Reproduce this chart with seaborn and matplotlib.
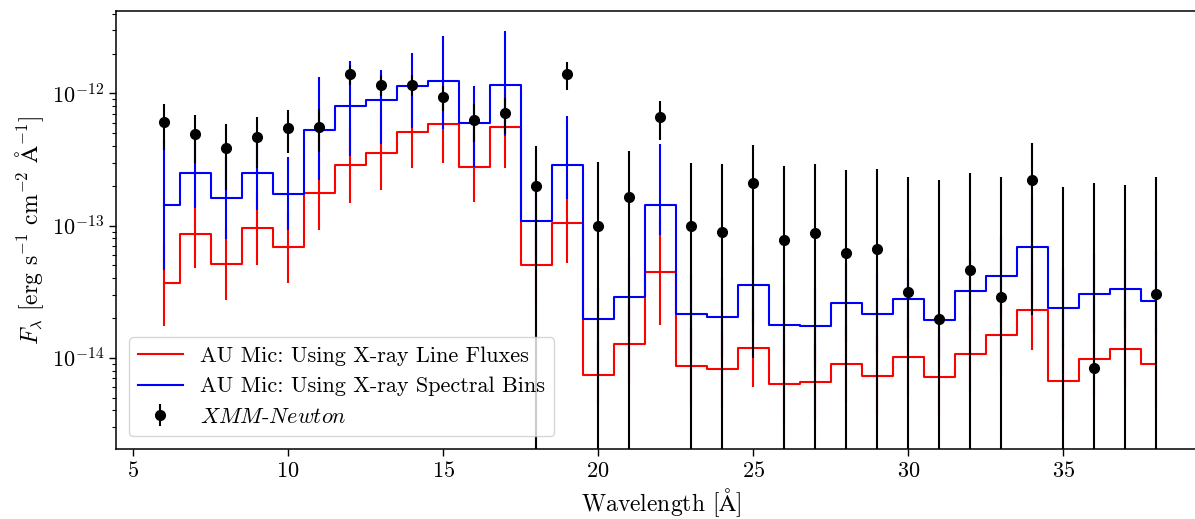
import numpy as np
import matplotlib
matplotlib.use("Agg")
import matplotlib.pyplot as plt
import seaborn as sns

# Bin centres [Angstrom]
wavelength = [6, 7, 8, 9, 10, 11, 12, 13, 14, 15, 16, 17, 18, 19, 20, 21, 22,
              23, 24, 25, 26, 27, 28, 29, 30, 31, 32, 33, 34, 35, 36, 37, 38]

# AU Mic model built from X-ray line fluxes
line_flux = [3.66e-14, 8.67e-14, 5.12e-14, 9.52e-14, 6.84e-14, 1.77e-13, 2.87e-13,
             3.52e-13, 5.07e-13, 5.83e-13, 2.79e-13, 5.59e-13, 5.02e-14, 1.04e-13,
             7.40e-15, 1.26e-14, 4.43e-14, 8.65e-15, 8.17e-15, 1.19e-14, 6.29e-15,
             6.55e-15, 8.96e-15, 7.31e-15, 1.02e-14, 7.18e-15, 1.07e-14, 1.48e-14,
             2.30e-14, 6.70e-15, 9.82e-15, 1.17e-14, 8.96e-15]
line_dex_up = [0.30, 0.26, 0.27, 0.28, 0.27, 0.27, 0.29, 0.28, 0.27, 0.29, 0.27,
               0.30, 0.29, 0.23, 0.25, 0.29, 0.40, 0.29, 0.29, 0.30, 0.29, 0.29,
               0.29, 0.29, 0.29, 0.29, 0.29, 0.29, 0.30, 0.29, 0.29, 0.29, 0.28]
line_dex_lo = [0.32, 0.26, 0.27, 0.28, 0.27, 0.28, 0.29, 0.28, 0.27, 0.29, 0.27,
               0.31, 0.29, 0.30, 0.23, 0.29, 0.40, 0.29, 0.29, 0.30, 0.29, 0.29,
               0.29, 0.29, 0.29, 0.29, 0.29, 0.29, 0.30, 0.29, 0.29, 0.29, 0.33]

# AU Mic model built from X-ray spectral bins
bin_flux = [1.43e-13, 2.48e-13, 1.61e-13, 2.48e-13, 1.72e-13, 5.27e-13, 8.01e-13,
            8.85e-13, 1.135e-12, 1.24e-12, 5.93e-13, 1.16e-12, 1.08e-13, 2.88e-13,
            1.95e-14, 2.89e-14, 1.44e-13, 2.13e-14, 2.02e-14, 3.53e-14, 1.76e-14,
            1.73e-14, 2.61e-14, 2.14e-14, 2.79e-14, 1.94e-14, 3.20e-14, 4.17e-14,
            6.91e-14, 2.36e-14, 3.05e-14, 3.31e-14, 2.67e-14]
bin_dex_up = [0.49, 0.26, 0.31, 0.28, 0.28, 0.40, 0.34, 0.23, 0.25, 0.34, 0.28,
              0.41, 0.34, 0.37, 0.24, 0.30, 0.46, 0.30, 0.30, 0.30, 0.30, 0.30,
              0.30, 0.30, 0.30, 0.30, 0.30, 0.30, 0.37, 0.30, 0.30, 0.30, 0.39]
bin_dex_lo = [0.49, 0.26, 0.31, 0.28, 0.27, 0.38, 0.38, 0.33, 0.32, 0.36, 0.33,
              0.39, 0.34, 0.26, 0.31, 0.30, 0.23, 0.30, 0.30, 0.30, 0.30, 0.30,
              0.30, 0.30, 0.30, 0.30, 0.30, 0.30, 0.40, 0.30, 0.30, 0.30, 0.24]

# XMM-Newton measurements
xmm_flux = [6.03e-13, 4.90e-13, 3.86e-13, 4.69e-13, 5.49e-13, 5.59e-13, 1.40e-12,
            1.16e-12, 1.16e-12, 9.38e-13, 6.31e-13, 7.06e-13, 1.98e-13, 1.39e-12,
            9.91e-14, 1.64e-13, 6.58e-13, 9.97e-14, 8.93e-14, 2.10e-13, 7.81e-14,
            8.73e-14, 6.23e-14, 6.64e-14, 3.12e-14, 1.95e-14, 4.61e-14, 2.88e-14,
            2.22e-13, 1.0e-15, 8.40e-15, 1.0e-15, 3.05e-14]
xmm_err = [2.27e-13, 1.95e-13, 2.00e-13, 1.96e-13, 1.98e-13, 1.98e-13, 2.40e-13,
           2.10e-13, 2.10e-13, 1.97e-13, 2.00e-13, 2.15e-13, 2.00e-13, 3.30e-13,
           2.02e-13, 2.02e-13, 2.17e-13, 2.00e-13, 2.03e-13, 2.00e-13, 2.04e-13,
           2.03e-13, 2.02e-13, 2.00e-13, 2.03e-13, 2.00e-13, 2.02e-13, 2.03e-13,
           2.01e-13, 1.96e-13, 2.03e-13, 2.00e-13, 2.02e-13]

plt.rcParams.update({
    "font.family": "serif",
    "font.serif": ["cmr10"],
    "mathtext.fontset": "cm",
    "axes.unicode_minus": False,
    "axes.formatter.use_mathtext": True,
    "font.size": 16,
    "axes.linewidth": 1.1,
})


def log_bounds(flux, dex_lo, dex_hi):
    f = np.asarray(flux)
    lo = f - f / 10 ** np.asarray(dex_lo)
    hi = f * 10 ** np.asarray(dex_hi) - f
    return [lo, hi]


fig = plt.figure(figsize=(11.95, 5.19), dpi=100)
ax = fig.add_axes([0.0971, 0.1343, 0.912, 0.8445])
ax.set_yscale("log")

# model error bars
ax.errorbar(wavelength, line_flux, yerr=log_bounds(line_flux, line_dex_lo, line_dex_up),
            fmt="none", ecolor="red", elinewidth=1.5, capsize=0, zorder=2)
ax.errorbar(wavelength, bin_flux, yerr=log_bounds(bin_flux, bin_dex_lo, bin_dex_up),
            fmt="none", ecolor="blue", elinewidth=1.5, capsize=0, zorder=2.2)

# binned model spectra as steps
sns.lineplot(x=wavelength, y=line_flux, drawstyle="steps-mid", color="red",
             linewidth=1.5, label="AU Mic: Using X-ray Line Fluxes", ax=ax, zorder=2.1)
sns.lineplot(x=wavelength, y=bin_flux, drawstyle="steps-mid", color="blue",
             linewidth=1.5, label="AU Mic: Using X-ray Spectral Bins", ax=ax, zorder=2.3)

# observed fluxes
ax.errorbar(wavelength, xmm_flux, yerr=xmm_err, fmt="o", color="black",
            markersize=7, elinewidth=1.5, capsize=0, zorder=3,
            label=r"$\mathit{XMM}$-$\mathit{Newton}$")

ax.set_xlim(4.45, 39.6)
ax.set_ylim(2.03e-15, 4.2e-12)
ax.set_xticks([5, 10, 15, 20, 25, 30, 35])
ax.tick_params(axis="both", which="major", direction="out", length=5, width=1.0,
               labelsize=16)
ax.tick_params(axis="y", which="minor", direction="out", length=3, width=0.8)

ax.set_xlabel(r"Wavelength [$\mathrm{\AA}$]", fontsize=17)
ax.set_ylabel(r"$F_\lambda$ [erg s$^{-1}$ cm$^{-2}$ $\mathrm{\AA}^{-1}$]", fontsize=17)

ax.legend(loc="lower left", fontsize=16, frameon=True, borderaxespad=0.6)

fig.savefig("out.png", dpi=100)
